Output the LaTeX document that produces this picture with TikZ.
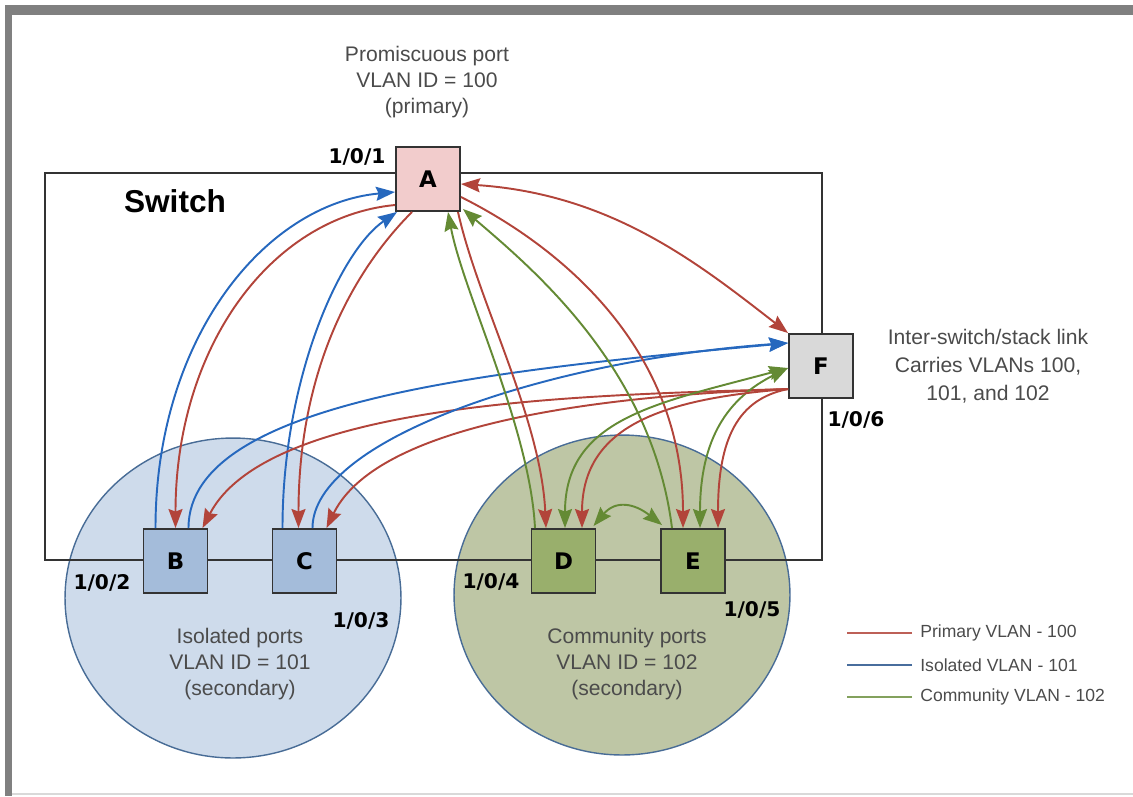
\documentclass[tikz,border=0pt]{standalone}
\usepackage{fontspec}
\setmainfont{Liberation Sans}
\newfontfamily\portfont{DejaVu Sans}
\usetikzlibrary{calc,arrows.meta}

\definecolor{vlanred}{RGB}{178,68,58}
\definecolor{vlanblue}{RGB}{38,104,190}
\definecolor{vlangreen}{RGB}{100,138,52}
\definecolor{isofill}{RGB}{206,219,235}
\definecolor{comfill}{RGB}{190,198,165}
\definecolor{circedge}{RGB}{72,108,150}
\definecolor{isobox}{RGB}{164,188,218}
\definecolor{combox}{RGB}{153,175,108}
\definecolor{pinkbox}{RGB}{242,204,204}
\definecolor{graybox}{RGB}{217,217,217}
\definecolor{textgray}{RGB}{75,75,75}

\tikzset{
  port/.style={draw=black!80, line width=1.1pt, minimum size=12.8mm, inner sep=0pt,
    font=\portfont\bfseries\fontsize{13}{13}\selectfont},
  portlbl/.style={font=\portfont\bfseries\fontsize{11.5}{12}\selectfont, inner sep=0pt},
  note/.style={align=center, text=textgray, font=\fontsize{12}{15}\selectfont, inner sep=0pt},
  legtext/.style={anchor=west, text=textgray, font=\fontsize{10}{12}\selectfont, inner sep=0pt},
  vlan/.style={line width=1.1pt, ->},
  pri/.style={vlan, color=vlanred},
  iso/.style={vlan, color=vlanblue},
  com/.style={vlan, color=vlangreen},
}

\begin{document}
\begin{tikzpicture}[x=0.02cm, y=-0.02cm, >={Stealth[length=3.8mm,width=2.8mm,inset=0.5mm]}]
	%%%%% START %%%%%
	\useasboundingbox (0,0) rectangle (1133,796);
	
	\fill[black!50] (5,5) rectangle (1133,15);
	\fill[black!50] (5,5) rectangle (12,796);
	\draw[black!15, line width=0.6pt] (12,794) -- (1133,794);
	
	% port groups
	\draw[line width=0.8pt, draw=circedge, fill=isofill] (233,598) ellipse [x radius=3.36cm, y radius=3.2cm];
	\draw[line width=0.8pt, draw=circedge, fill=comfill] (622,595) ellipse [x radius=3.36cm, y radius=3.2cm];
	
	% switch
	\draw[line width=1.3pt, black!80] (45,173) rectangle (822,560);
	\node[font=\bfseries\fontsize{18}{18}\selectfont, inner sep=0pt] (sw) at (175,201) {Switch};
	
	\node[port, fill=pinkbox] (A) at (428,179) {A};
	\node[port, fill=isobox] (B) at (175.5,561) {B};
	\node[port, fill=isobox] (C) at (304.5,561) {C};
	\node[port, fill=combox] (D) at (563.5,561) {D};
	\node[port, fill=combox] (E) at (693,561) {E};
	\node[port, fill=graybox] (F) at (821,366) {F};
	
	\node[portlbl] (pA) at (357,157) {1/0/1};
	\node[portlbl] (pB) at (102,583) {1/0/2};
	\node[portlbl] (pC) at (361,621) {1/0/3};
	\node[portlbl] (pD) at (491,582) {1/0/4};
	\node[portlbl] (pE) at (752,610) {1/0/5};
	\node[portlbl] (pF) at (856,420) {1/0/6};
	
	\node[note] (nA) at (427,82) {Promiscuous port\\VLAN ID = 100\\(primary)};
	\node[note] (nBC) at (240,664) {Isolated ports\\VLAN ID = 101\\(secondary)};
	\node[note] (nDE) at (627,664) {Community ports\\VLAN ID = 102\\(secondary)};
	\node[note, font=\fontsize{12}{16}\selectfont] (nF) at (988,366) {Inter-switch/stack link\\Carries VLANs 100,\\101, and 102};
	
	% A <-> B, C
	\draw[iso] ($(B.north)+(-20,0)$) .. controls +(0,-190) and +(-130,12) .. ($(A.west)+(0,13)$);
	\draw[pri] ($(A.west)+(0,26)$) .. controls +(-125,12) and +(0,-180) .. (B.north);
	\draw[iso] ($(C.north)+(-22,0)$) .. controls +(0,-150) and +(-57,39) .. ($(A.south west)+(2,0)$);
	\draw[pri] ($(A.south)+(-16,0)$) .. controls +(-50,50) and +(0,-170) .. ($(C.north)+(-6,0)$);
	
	% F <-> B, C
	\draw[iso] ($(B.north)+(13,0)$) .. controls +(0,-129) and +(-289,27) .. ($(F.west)+(0,-23)$);
	\draw[pri] ($(F.west)+(0,23)$) .. controls +(-189,6) and +(67,-129) .. ($(B.north)+(27,0)$);
	\draw[iso] ($(C.north)+(8,0)$) .. controls +(0,-89) and +(-239,17) .. ($(F.west)+(0,-23)$);
	\draw[pri] ($(F.west)+(0,23)$) .. controls +(-168,6) and +(53,-109) .. ($(C.north)+(22,0)$);
	
	% A <-> D, E
	\draw[com] ($(D.north)+(-28.5,0)$) .. controls +(-5,-100) and +(15,80) .. ($(A.south)+(20,0)$);
	\draw[pri] ($(A.south)+(30,0)$) .. controls +(20,90) and +(-5,-110) .. ($(D.north)+(-17.5,0)$);
	\draw[com] ($(E.north)+(-21,0)$) .. controls +(-20,-160) and +(70,60) .. ($(A.south east)+(2,-3)$);
	\draw[pri] ($(A.east)+(0,18)$) .. controls +(100,50) and +(0,-180) .. ($(E.north)+(-10,0)$);
	\draw[pri, <->] ($(A.east)+(0,5)$) .. controls +(150,10) and +(-90,-70) .. (F.north west);
	
	% F <-> D, E
	\draw[com, <->] ($(D.north)+(1.5,0)$) .. controls +(0,-110) and +(-130,35) .. ($(F.west)+(0,2)$);
	\draw[com, <->] ($(E.north)+(7,0)$) .. controls +(0,-90) and +(-60,30) .. ($(F.west)+(0,2)$);
	\draw[pri] ($(F.west)+(0,23)$) .. controls +(-130,10) and +(0,-100) .. ($(D.north)+(18.5,0)$);
	\draw[pri] ($(F.west)+(0,23)$) .. controls +(-50,10) and +(0,-90) .. ($(E.north)+(25,0)$);
	\draw[com, <->] ($(D.north east)+(-3,-2)$) .. controls +(22,-26) and +(-28,-22) .. ($(E.north west)+(2,-3)$);
	
	% legend
	\node[legtext] (lgP) at (920,633) {Primary VLAN - 100};
	\node[legtext] (lgI) at (920,665) {Isolated VLAN - 101};
	\node[legtext] (lgC) at (920,697) {Community VLAN - 102};
	\draw[line width=1pt, vlanred!85] ($(lgP.west)+(-8,0)$) -- +(-65,0);
	\draw[line width=1pt, vlanblue!70!black!80] ($(lgI.west)+(-8,0)$) -- +(-65,0);
	\draw[line width=1pt, vlangreen!80] ($(lgC.west)+(-8,0)$) -- +(-65,0);
	
	%%%%% END %%%%%
\end{tikzpicture}
\end{document}
